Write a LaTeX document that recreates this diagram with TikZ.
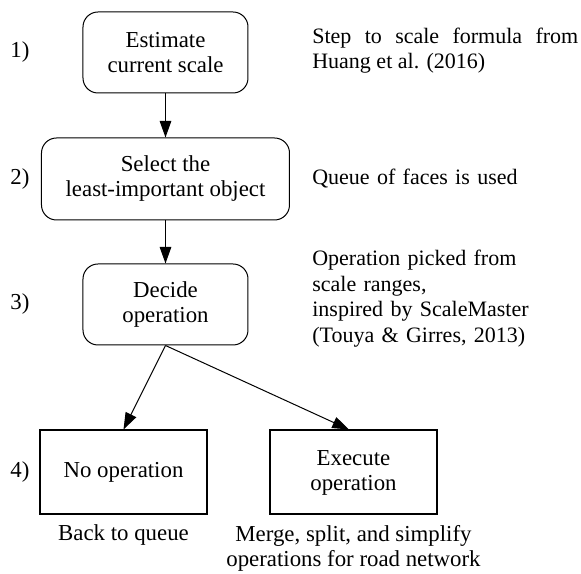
\documentclass[tikz,border=0pt]{standalone}
\usepackage{fontspec}
\setmainfont{Liberation Serif}
\usetikzlibrary{arrows.meta,positioning,calc}
\newcommand{\boxfont}{\fontsize{13.7}{15}\selectfont}
\newcommand{\notefont}{\fontsize{13.2}{15.3}\selectfont}
\tikzset{
  stepbox/.style={draw=black, line width=0.6pt, rounded corners=9pt, align=center,
    minimum width=99pt, minimum height=48.6pt, inner sep=2pt, font=\boxfont},
  widebox/.style={stepbox, minimum width=148.8pt, minimum height=49.2pt},
  endbox/.style={draw=black, line width=1.2pt, align=center, inner sep=2pt,
    minimum width=100.2pt, minimum height=50.4pt, font=\boxfont},
  arr/.style={-{Triangle[length=10pt,width=7pt]}, line width=0.6pt},
  numlabel/.style={font=\boxfont, inner sep=0pt},
  note/.style={font=\notefont, anchor=west, inner sep=0pt, text width=159.6pt},
  outcome/.style={font=\boxfont, align=center, inner sep=2pt}
}

\begin{document}
\begin{tikzpicture}

  \useasboundingbox (-99.3pt,31.5pt) rectangle (249.3pt,-312.9pt);

  % main chain of steps
  \node[stepbox] (est) at (0,0) {Estimate\\current scale};
  \node[widebox, below=26.4pt of est] (sel) {Select the\\least-important object};
  \node[stepbox, below=25.8pt of sel] (dec) {Decide\\operation};

  % the two outcomes
  \node[endbox, below=50.4pt of dec, xshift=-25.2pt] (noop) {No operation};
  \node[endbox, right=36.6pt of noop] (exec) {Execute\\operation};

  \draw[arr] (est) -- (sel);
  \draw[arr] (sel) -- (dec);
  \draw[arr] (dec.south) -- (noop.north);
  \draw[arr] (dec.south) -- (exec.96);

  % step numbers on the left
  \coordinate (numcol) at (-87.3pt,0);
  \node[numlabel] (num1) at (numcol |- est) {1)};
  \node[numlabel] (num2) at (numcol |- sel) {2)};
  \node[numlabel] (num3) at (numcol |- dec) {3)};
  \node[numlabel] (num4) at (numcol |- noop) {4)};

  % notes on the right
  \coordinate (notecol) at (87.9pt,0);
  \node[note, align=justify, yshift=1.2pt] (note1) at (notecol |- est)
    {Step to scale formula from\linebreak Huang et al. (2016)};
  \node[note, align=left] (note2) at (notecol |- sel) {Queue of faces is used};
  \node[note, align=left, yshift=3.6pt] (note3) at (notecol |- dec)
    {Operation picked from\\scale ranges,\\inspired by ScaleMaster\\(Touya \& Girres, 2013)};

  % what happens after each outcome
  \node[outcome, below=3.5pt of noop] (back) {Back to queue};
  \node[outcome, below=3.5pt of exec] (ops) {Merge, split, and simplify\\operations for road network};

\end{tikzpicture}
\end{document}
